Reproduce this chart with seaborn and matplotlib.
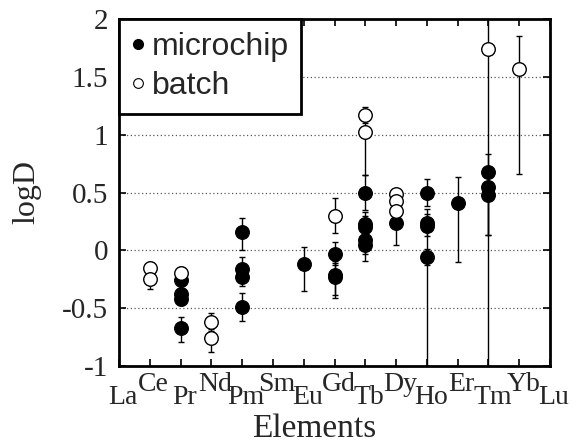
import numpy as np
import pandas as pd
import matplotlib
matplotlib.use("Agg")
import matplotlib.pyplot as plt
import matplotlib.transforms as mtransforms
from matplotlib.lines import Line2D
import seaborn as sns

# ---------------- data ----------------
elements = ['La', 'Ce', 'Pr', 'Nd', 'Pm', 'Sm', 'Eu', 'Gd', 'Tb', 'Dy', 'Ho', 'Er', 'Tm', 'Yb', 'Lu']

micro_el = ['Pr', 'Pr', 'Pr', 'Pr', 'Pm', 'Pm', 'Pm', 'Pm', 'Eu', 'Gd', 'Gd', 'Gd',
            'Tb', 'Tb', 'Tb', 'Tb', 'Tb', 'Dy', 'Ho', 'Ho', 'Ho', 'Ho', 'Er', 'Tm', 'Tm', 'Tm']
micro_logD = [-0.26, -0.38, -0.42, -0.67, 0.16, -0.16, -0.23, -0.49, -0.12, -0.03, -0.21, -0.23,
              0.50, 0.23, 0.20, 0.09, 0.05, 0.24, 0.50, 0.24, 0.21, -0.06, 0.41, 0.68, 0.55, 0.48]
micro_err_lo = [0.05, 0.05, 0.05, 0.12, 0.16, 0.08, 0.08, 0.12, 0.23, 0.10, 0.18, 0.18,
                0.15, 0.10, 0.12, 0.12, 0.14, 0.19, 0.12, 0.12, 1.21, 0.07, 0.51, 0.15, 0.42, 1.48]
micro_err_hi = [0.05, 0.05, 0.05, 0.09, 0.12, 0.10, 0.08, 0.12, 0.15, 0.10, 0.12, 0.12,
                0.15, 0.10, 0.10, 0.10, 0.10, 0.10, 0.12, 0.12, 0.10, 0.07, 0.22, 0.15, 0.10, 0.10]

batch_el = ['Ce', 'Ce', 'Pr', 'Nd', 'Nd', 'Gd', 'Tb', 'Tb', 'Dy', 'Dy', 'Dy', 'Tm', 'Yb']
batch_logD = [-0.15, -0.25, -0.20, -0.62, -0.76, 0.30, 1.17, 1.02, 0.49, 0.43, 0.34, 1.74, 1.57]
batch_err_lo = [0.05, 0.08, 0.06, 0.08, 0.12, 0.15, 0.07, 0.37, 0.04, 0.05, 0.06, 1.61, 0.91]
batch_err_hi = [0.05, 0.05, 0.06, 0.08, 0.08, 0.15, 0.07, 0.10, 0.04, 0.05, 0.06, 0.40, 0.28]

series_labels = ['microchip', 'batch']
y_ticks = [-1, -0.5, 0, 0.5, 1, 1.5, 2]
y_tick_labels = ['-1', '-0.5', '0', '0.5', '1', '1.5', '2']

# ---------------- figure ----------------
sns.set_style('ticks')
plt.rcParams['font.family'] = ['Liberation Serif', 'DejaVu Serif']

fig = plt.figure(figsize=(5.72, 4.46), dpi=100)
ax = fig.add_axes([119 / 572, 1 - 366 / 446, (550 - 119) / 572, (366 - 19) / 446])

pos = {e: i for i, e in enumerate(elements)}
micro = pd.DataFrame({'x': [pos[e] for e in micro_el], 'logD': micro_logD,
                      'lo': micro_err_lo, 'hi': micro_err_hi})
batch = pd.DataFrame({'x': [pos[e] for e in batch_el], 'logD': batch_logD,
                      'lo': batch_err_lo, 'hi': batch_err_hi})

for df in (micro, batch):
    ax.errorbar(df['x'], df['logD'], yerr=[df['lo'], df['hi']], fmt='none',
                ecolor='black', elinewidth=1.0, capsize=2.5, capthick=1.0, zorder=2)

sns.scatterplot(data=micro, x='x', y='logD', ax=ax, s=95, color='black',
                edgecolor='black', linewidth=1.0, zorder=3, legend=False)
sns.scatterplot(data=batch, x='x', y='logD', ax=ax, s=95, color='white',
                edgecolor='black', linewidth=1.0, zorder=3, legend=False)

ax.set_xlim(0, len(elements) - 1)
ax.set_ylim(-1, 2)
ax.set_yticks(y_ticks)
ax.set_yticklabels(y_tick_labels, fontsize=21)
ax.set_xticks(range(len(elements)))
ax.set_xticklabels(elements, fontsize=20)

ax.yaxis.grid(True, linestyle=(0, (1, 2)), color='0.35', linewidth=0.9)
ax.xaxis.grid(False)
ax.set_axisbelow(True)

for sp in ax.spines.values():
    sp.set_visible(True)
    sp.set_linewidth(2.0)
    sp.set_color('black')

ax.tick_params(axis='both', direction='in', top=True, right=True, length=5, width=1.2,
               color='black')
ax.tick_params(axis='y', pad=8)
ax.tick_params(axis='x', pad=4)

# alternate low/high element labels
for i, lab in enumerate(ax.get_xticklabels()):
    dy = -13 / 100 if i % 2 == 0 else 0
    off = mtransforms.ScaledTranslation(4 / 100, dy, fig.dpi_scale_trans)
    lab.set_transform(lab.get_transform() + off)

ax.set_xlabel('Elements', fontsize=24, va='baseline')
ax.set_ylabel('logD', fontsize=23)
ax.xaxis.set_label_coords(0.4536, -0.205)
ax.yaxis.set_label_coords(-0.18, 0.5)

handles = [Line2D([], [], marker='o', linestyle='none', markersize=7,
                  markerfacecolor='black', markeredgecolor='black'),
           Line2D([], [], marker='o', linestyle='none', markersize=7,
                  markerfacecolor='white', markeredgecolor='black', markeredgewidth=0.8)]
leg = ax.legend(handles, series_labels, loc='upper left', bbox_to_anchor=(0, 1),
                borderaxespad=0, fancybox=False, framealpha=1, edgecolor='black',
                prop={'family': 'Liberation Sans', 'size': 23},
                handlelength=0.4, handletextpad=0.22, borderpad=0.4, labelspacing=0.3)
leg.get_frame().set_linewidth(2.0)

fig.savefig('out.png', dpi=100)
